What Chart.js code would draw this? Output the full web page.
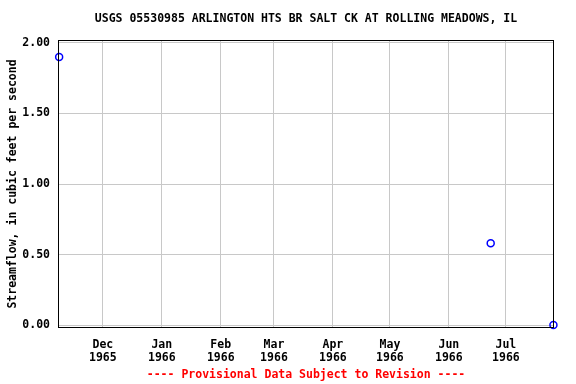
<!DOCTYPE html>
<html>
<head>
<meta charset="utf-8">
<script src="https://cdn.jsdelivr.net/npm/chart.js@4/dist/chart.umd.min.js"></script>
<style>
  html, body { margin: 0; padding: 0; background: #fff; }
  canvas { display: block; }
</style>
</head>
<body>
<canvas id="flowChart" width="576" height="384"></canvas>
<script>
// Chart data
const chartTitle = 'USGS 05530985 ARLINGTON HTS BR SALT CK AT ROLLING MEADOWS, IL';
const footerText = '---- Provisional Data Subject to Revision ----';
const yAxisTitle = 'Streamflow, in cubic feet per second';

const sampleDates = ['1965-11-08', '1966-06-23', '1966-07-26'];
const flowValues = [1.90, 0.58, 0.00];

const monthTickDates = ['1965-12-01', '1966-01-01', '1966-02-01', '1966-03-01',
                        '1966-04-01', '1966-05-01', '1966-06-01', '1966-07-01'];
const monthTickLabels = [['Dec', '1965'], ['Jan', '1966'], ['Feb', '1966'], ['Mar', '1966'],
                         ['Apr', '1966'], ['May', '1966'], ['Jun', '1966'], ['Jul', '1966']];
const yTickValues = [0, 0.5, 1.0, 1.5, 2.0];

// Dates as day numbers for a plain linear x scale
const dayNum = s => Date.parse(s + 'T00:00:00Z') / 86400000;
const monthTickDays = monthTickDates.map(dayNum);
const points = sampleDates.map((d, i) => ({ x: dayNum(d), y: flowValues[i] }));

const monoFont = { family: "'DejaVu Sans Mono', monospace", size: 11.5, weight: 'bold' };

// Title, footer and plot frame
const framePlugin = {
    id: 'frame',
    afterDraw(chart) {
        const { ctx, chartArea } = chart;
        const cx = (chartArea.left + chartArea.right) / 2;
        ctx.save();
        ctx.strokeStyle = '#000';
        ctx.lineWidth = 1;
        ctx.strokeRect(chartArea.left + 0.5, chartArea.top + 0.5,
                       chartArea.right - chartArea.left - 1, chartArea.bottom - chartArea.top - 1);
        ctx.font = "bold 11.5px 'DejaVu Sans Mono', monospace";
        ctx.textAlign = 'center';
        ctx.textBaseline = 'middle';
        ctx.fillStyle = '#000';
        ctx.fillText(chartTitle, cx, 19);
        ctx.fillStyle = '#ff0000';
        ctx.fillText(footerText, cx, 375);
        ctx.restore();
    }
};

new Chart(document.getElementById('flowChart'), {
    type: 'scatter',
    data: {
        datasets: [{
            data: points,
            showLine: false,
            pointStyle: 'circle',
            pointRadius: 3.5,
            pointBorderWidth: 1.5,
            pointBorderColor: '#0000ff',
            pointBackgroundColor: 'rgba(0,0,0,0)',
            clip: false
        }]
    },
    options: {
        responsive: false,
        animation: false,
        layout: { padding: { top: 40, right: 22, left: 0, bottom: 0 } },
        plugins: {
            legend: { display: false },
            tooltip: { enabled: false }
        },
        scales: {
            x: {
                type: 'linear',
                min: dayNum('1965-11-08') - 0.6,
                max: dayNum('1966-07-26') + 0.3,
                border: { display: false },
                grid: { color: '#c8c8c8', drawTicks: false },
                afterBuildTicks: scale => {
                    scale.ticks = monthTickDays.map(v => ({ value: v }));
                },
                afterFit: scale => { scale.height = 56; },
                ticks: {
                    autoSkip: false,
                    maxRotation: 0,
                    padding: 11,
                    color: '#000',
                    font: { ...monoFont, lineHeight: 1.1 },
                    callback: (value, index) => monthTickLabels[index]
                }
            },
            y: {
                min: -0.021,
                max: 2.021,
                border: { display: false },
                grid: { color: '#c8c8c8', drawTicks: false },
                afterBuildTicks: scale => {
                    scale.ticks = yTickValues.map(v => ({ value: v }));
                },
                afterFit: scale => { scale.width = 58; },
                ticks: {
                    padding: 8,
                    color: '#000',
                    font: monoFont,
                    callback: value => Number(value).toFixed(2)
                },
                title: {
                    display: true,
                    text: yAxisTitle,
                    color: '#000',
                    font: monoFont,
                    padding: { top: 6, bottom: 0 }
                }
            }
        }
    },
    plugins: [framePlugin]
});
</script>
</body>
</html>
